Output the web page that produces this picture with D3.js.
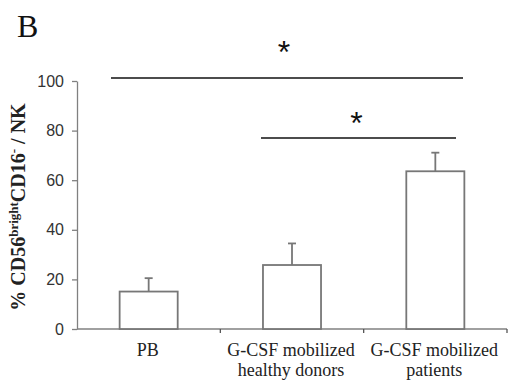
<!DOCTYPE html>
<html><head><meta charset="utf-8">
<script src="https://cdn.jsdelivr.net/npm/d3@7"></script>
<style>body{margin:0;background:#fff}svg{display:block}</style>
</head><body>
<svg id="c" width="508" height="385"></svg>
<script>
const categories = ["PB", "G-CSF mobilized|healthy donors", "G-CSF mobilized|patients"];
const values = [15.1, 25.8, 63.6];
const errors = [5.4, 8.7, 7.5];
const yTicks = [0, 20, 40, 60, 80, 100];
const sigPairs = [[0, 2, 101.2], [1, 2, 77]];

const svg = d3.select("#c");
const x = d3.scaleBand().domain(categories).range([77, 507]).paddingInner(0.595).paddingOuter(0.2975);
const y = d3.scaleLinear().domain([0, 100]).range([329, 81]);
const gray = "#808080";

// y axis
const ya = svg.append("g").attr("transform", "translate(77,0)")
  .call(d3.axisLeft(y).tickValues(yTicks).tickSize(5).tickSizeOuter(0).tickPadding(8));
ya.select(".domain").attr("stroke", gray).attr("stroke-width", 1.3);
ya.selectAll(".tick line").attr("stroke", gray).attr("stroke-width", 1.3);
ya.selectAll(".tick text").attr("font-family", "Liberation Sans, Arial, sans-serif")
  .attr("font-size", 16).attr("fill", "#333");

// x axis line
svg.append("line").attr("x1", 77).attr("x2", 507).attr("y1", y(0)).attr("y2", y(0))
  .attr("stroke", gray).attr("stroke-width", 1.3);
svg.selectAll(".xt").data(categories).enter().append("line")
  .attr("x1", d => x(d) + x.bandwidth() / 2 + x.step() / 2)
  .attr("x2", d => x(d) + x.bandwidth() / 2 + x.step() / 2)
  .attr("y1", y(0)).attr("y2", y(0) + 4).attr("stroke", "#555").attr("stroke-width", 1.3);

// bars
svg.selectAll(".bar").data(categories).enter().append("rect")
  .attr("x", d => x(d)).attr("width", x.bandwidth())
  .attr("y", (d, i) => y(values[i])).attr("height", (d, i) => y(0) - y(values[i]))
  .attr("fill", "#fff").attr("stroke", "#777").attr("stroke-width", 1.8);

// error bars
const cx = d => x(d) + x.bandwidth() / 2;
svg.selectAll(".err").data(categories).enter().append("line")
  .attr("x1", cx).attr("x2", cx)
  .attr("y1", (d, i) => y(values[i])).attr("y2", (d, i) => y(values[i] + errors[i]))
  .attr("stroke", "#777").attr("stroke-width", 1.8);
svg.selectAll(".cap").data(categories).enter().append("line")
  .attr("x1", d => cx(d) - 4).attr("x2", d => cx(d) + 4)
  .attr("y1", (d, i) => y(values[i] + errors[i])).attr("y2", (d, i) => y(values[i] + errors[i]))
  .attr("stroke", "#777").attr("stroke-width", 1.8);

// x labels
categories.forEach(c => {
  const lines = c.split("|");
  const t = svg.append("text").attr("text-anchor", "middle")
    .attr("font-family", "Liberation Serif, Times New Roman, serif").attr("font-size", 18).attr("fill", "#222");
  lines.forEach((l, k) => t.append("tspan").attr("x", cx(c) - 1).attr("y", 356 + k * 20).text(l));
});

// significance
const sigX1 = [111, 261], sigX2 = [463, 456];
const starBase = [63, 134];
sigPairs.forEach((p, k) => {
  const yy = y(p[2]);
  svg.append("line").attr("x1", sigX1[k]).attr("x2", sigX2[k]).attr("y1", yy).attr("y2", yy)
    .attr("stroke", "#111").attr("stroke-width", 1.6);
  svg.append("text").attr("x", (sigX1[k] + sigX2[k]) / 2 - (k === 0 ? 3 : 2)).attr("y", starBase[k])
    .attr("text-anchor", "middle").attr("font-family", "Liberation Sans, Arial, sans-serif")
    .attr("font-size", 32).attr("fill", "#111").text("*");
});

// panel label
svg.append("text").attr("x", 17).attr("y", 37).attr("font-family", "Liberation Serif, Times New Roman, serif")
  .attr("font-size", 32).attr("fill", "#111").text("B");

// y title
const yt = svg.append("text").attr("transform", "translate(25,207) rotate(-90)")
  .attr("text-anchor", "middle").attr("font-family", "Liberation Serif, Times New Roman, serif")
  .attr("font-weight", "bold").attr("font-size", 20).attr("fill", "#222");
yt.append("tspan").text("% CD56");
yt.append("tspan").attr("font-size", 13).attr("dy", -7).text("bright");
yt.append("tspan").attr("dy", 7).text("CD16");
yt.append("tspan").attr("font-size", 13).attr("dy", -7).text("-");
yt.append("tspan").attr("dy", 7).text(" / NK");
</script>
</body></html>
